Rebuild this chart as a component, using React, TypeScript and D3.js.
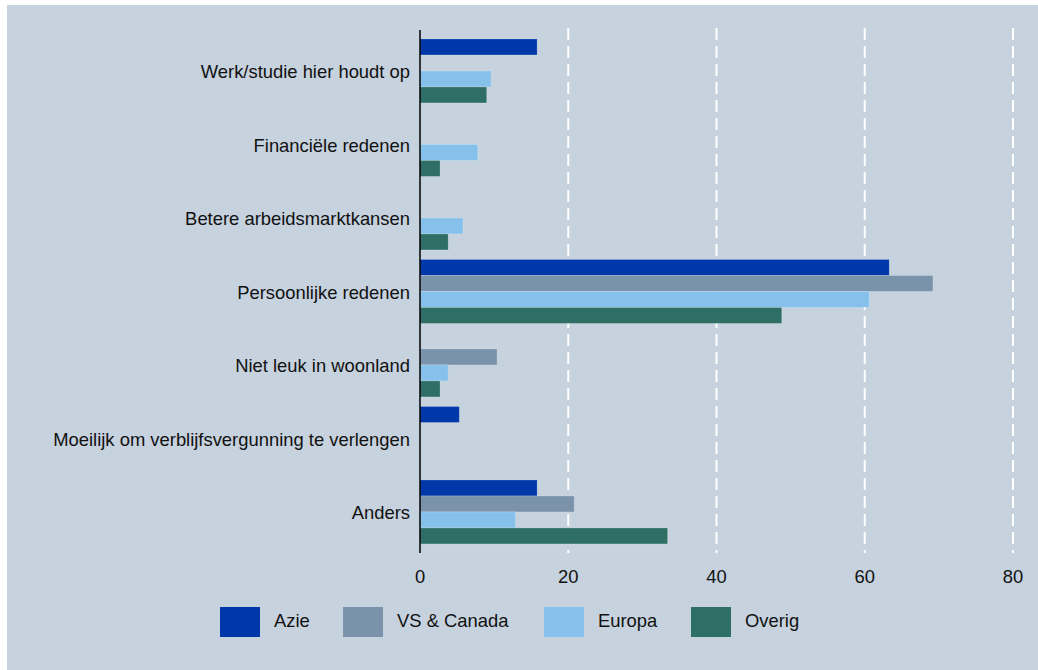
import React from "react";
import * as d3 from "d3";

// ─── Data ─────────────────────────────────────────────────────────────────────
const CATEGORIES = [
  "Werk/studie hier houdt op",
  "Financiële redenen",
  "Betere arbeidsmarktkansen",
  "Persoonlijke redenen",
  "Niet leuk in woonland",
  "Moeilijk om verblijfsvergunning te verlengen",
  "Anders",
];
const SERIES = ["Azie", "VS & Canada", "Europa", "Overig"];
const AZIE = [15.8, 0, 0, 63.3, 0, 5.3, 15.8];
const VS_CANADA = [0, 0, 0, 69.2, 10.4, 0, 20.8];
const EUROPA = [9.6, 7.8, 5.8, 60.6, 3.8, 0, 12.9];
const OVERIG = [9.0, 2.7, 3.8, 48.8, 2.7, 0, 33.4];
const X_TICKS = [0, 20, 40, 60, 80];

// ─── Design tokens ────────────────────────────────────────────────────────────
const W = 1038;
const H = 670;
const BG = "#c6d2de";
const COLORS = ["#0037a9", "#7b93aa", "#85c1ea", "#2e6e65"];
const FONT = "'Liberation Sans', Arial, sans-serif";
const X0 = 420;
const X80 = 1013;
const PLOT_TOP = 30;
const PLOT_BOTTOM = 553;

const LEGEND_X = [220, 343, 544, 691];

export default function App() {
  const values = [AZIE, VS_CANADA, EUROPA, OVERIG];

  const x = d3.scaleLinear().domain([0, 80]).range([X0, X80]);
  const y = d3
    .scaleBand<string>()
    .domain(CATEGORIES)
    .range([34.2, 548.7])
    .paddingInner(0.13)
    .paddingOuter(0.065);
  const ySub = d3
    .scaleBand<string>()
    .domain(SERIES)
    .range([0, y.bandwidth()]);

  return (
    <svg
      width={W}
      height={H}
      style={{ position: "absolute", left: 0, top: 0, fontFamily: FONT }}
    >
      <rect x={7} y={5} width={W - 7} height={H - 5} fill={BG} />

      {/* grid */}
      {X_TICKS.filter((t) => t > 0).map((t) => (
        <line
          key={t}
          x1={x(t)}
          x2={x(t)}
          y1={PLOT_TOP - 2}
          y2={PLOT_BOTTOM}
          stroke="#ffffff"
          strokeWidth={2}
          strokeDasharray="12,6"
        />
      ))}

      {/* bars */}
      {CATEGORIES.map((c, ci) =>
        SERIES.map((s, si) => {
          const v = values[si][ci];
          if (!v) return null;
          return (
            <rect
              key={`${c}-${s}`}
              x={x(0)}
              y={(y(c) ?? 0) + (ySub(s) ?? 0)}
              width={x(v) - x(0)}
              height={ySub.bandwidth()}
              fill={COLORS[si]}
              stroke="#ffffff"
              strokeOpacity={0.25}
              strokeWidth={0.8}
            />
          );
        }),
      )}

      {/* axis line */}
      <line x1={X0} x2={X0} y1={PLOT_TOP} y2={PLOT_BOTTOM} stroke="#000" strokeWidth={1.5} />

      {/* category labels */}
      {CATEGORIES.map((c) => (
        <text
          key={c}
          x={410}
          y={(y(c) ?? 0) + y.bandwidth() / 2 + 2.5}
          textAnchor="end"
          dominantBaseline="middle"
          fontSize={18.4}
          fill="#111"
        >
          {c}
        </text>
      ))}

      {/* tick labels */}
      {X_TICKS.map((t) => (
        <text
          key={t}
          x={x(t)}
          y={578}
          textAnchor="middle"
          dominantBaseline="middle"
          fontSize={18.4}
          fill="#111"
        >
          {t}
        </text>
      ))}

      {/* legend */}
      {SERIES.map((s, i) => (
        <g key={s}>
          <rect x={LEGEND_X[i]} y={607} width={40} height={30} fill={COLORS[i]} />
          <text
            x={LEGEND_X[i] + 54}
            y={622}
            dominantBaseline="middle"
            fontSize={18.4}
            fill="#111"
          >
            {s}
          </text>
        </g>
      ))}
    </svg>
  );
}
